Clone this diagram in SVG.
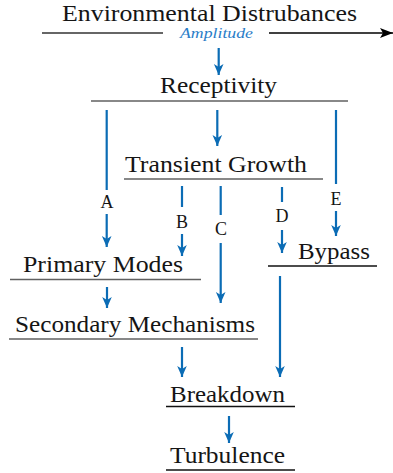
<svg xmlns="http://www.w3.org/2000/svg" width="393" height="473" viewBox="0 0 393 473">
<style>
.t{font-family:"Liberation Serif","Times New Roman","DejaVu Serif","Noto Serif",serif;font-size:24px;fill:#151515}
.lb{font-family:"Liberation Serif","Times New Roman","DejaVu Serif","Noto Serif",serif;font-size:18px;fill:#151515;text-anchor:middle}
.am{font-family:"Liberation Serif","Times New Roman","DejaVu Serif","Noto Serif",serif;font-style:italic;font-size:15px;fill:#2a7dc8}
.ul{stroke:#606060;stroke-width:1.6}
.ulk{stroke:#111;stroke-width:1.6}
.c{stroke:#0b6cb5;stroke-width:2.2;fill:none}
</style>
<defs>
<marker id="ah" markerUnits="userSpaceOnUse" markerWidth="14" markerHeight="12" viewBox="-12 -6 14 12" refX="0" refY="0" orient="auto">
<path d="M-11,-4.8 L0,0 L-11,4.8 L-8,0 Z" fill="#0b6cb5"/>
</marker>
<marker id="ahk" markerUnits="userSpaceOnUse" markerWidth="16" markerHeight="12" viewBox="-14 -6 16 12" refX="0" refY="0" orient="auto">
<path d="M-13,-5 L0,0 L-13,5 L-10,0 Z" fill="#000"/>
</marker>
</defs>
<g id="env">
<text class="t" x="62" y="21" textLength="295" lengthAdjust="spacingAndGlyphs">Environmental Distrubances</text>
<line x1="42" y1="33" x2="163" y2="33" stroke="#333" stroke-width="1.6"/>
<text class="am" x="180" y="38" textLength="73" lengthAdjust="spacingAndGlyphs">Amplitude</text>
</g>
<g id="receptivity">
<text class="t" x="160" y="93" textLength="117" lengthAdjust="spacingAndGlyphs">Receptivity</text>
<line class="ul" x1="91" y1="101" x2="348" y2="101"/>
</g>
<g id="transient">
<text class="t" x="125" y="172" textLength="182" lengthAdjust="spacingAndGlyphs">Transient Growth</text>
<line class="ul" x1="124" y1="179" x2="323" y2="179"/>
</g>
<g id="primary">
<text class="t" x="23" y="272" textLength="160" lengthAdjust="spacingAndGlyphs">Primary Modes</text>
<line class="ul" x1="10" y1="279.5" x2="201" y2="279.5"/>
</g>
<g id="bypass">
<text class="t" x="298" y="259" textLength="72" lengthAdjust="spacingAndGlyphs">Bypass</text>
<line class="ulk" x1="268" y1="266" x2="377" y2="266"/>
</g>
<g id="secondary">
<text class="t" x="15" y="332" textLength="240" lengthAdjust="spacingAndGlyphs">Secondary Mechanisms</text>
<line class="ul" x1="9" y1="339" x2="258" y2="339"/>
</g>
<g id="breakdown">
<text class="t" x="170" y="402" textLength="115" lengthAdjust="spacingAndGlyphs">Breakdown</text>
<line class="ulk" x1="166" y1="406.5" x2="295" y2="406.5"/>
</g>
<g id="turbulence">
<text class="t" x="170" y="463" textLength="115" lengthAdjust="spacingAndGlyphs">Turbulence</text>
<line class="ulk" x1="166" y1="470" x2="295" y2="470"/>
</g>
<g id="connectors">
<line x1="269" y1="33" x2="393" y2="33" stroke="#000" stroke-width="1.6" marker-end="url(#ahk)"/>
<line class="c" x1="218.7" y1="48" x2="218.7" y2="75" marker-end="url(#ah)"/>
<line class="c" x1="217.3" y1="110" x2="217.3" y2="146" marker-end="url(#ah)"/>
<line class="c" x1="106.7" y1="110" x2="106.7" y2="190"/>
<line class="c" x1="106.7" y1="214" x2="106.7" y2="247" marker-end="url(#ah)"/>
<text class="lb" x="107" y="208">A</text>
<line class="c" x1="336" y1="110" x2="336" y2="184"/>
<line class="c" x1="336" y1="211" x2="336" y2="236" marker-end="url(#ah)"/>
<text class="lb" x="336" y="205">E</text>
<line class="c" x1="182" y1="186" x2="182" y2="207"/>
<line class="c" x1="182" y1="234" x2="182" y2="256" marker-end="url(#ah)"/>
<text class="lb" x="182" y="228">B</text>
<line class="c" x1="220.7" y1="186" x2="220.7" y2="215"/>
<line class="c" x1="220.7" y1="243" x2="220.7" y2="303" marker-end="url(#ah)"/>
<text class="lb" x="221" y="235">C</text>
<line class="c" x1="282" y1="187" x2="282" y2="202"/>
<line class="c" x1="282" y1="230" x2="282" y2="253" marker-end="url(#ah)"/>
<text class="lb" x="282" y="222">D</text>
<line class="c" x1="280" y1="276" x2="280" y2="377" marker-end="url(#ah)"/>
<line class="c" x1="107" y1="287" x2="107" y2="308" marker-end="url(#ah)"/>
<line class="c" x1="182" y1="347" x2="182" y2="377" marker-end="url(#ah)"/>
<line class="c" x1="229" y1="416" x2="229" y2="443" marker-end="url(#ah)"/>
</g>
</svg>
